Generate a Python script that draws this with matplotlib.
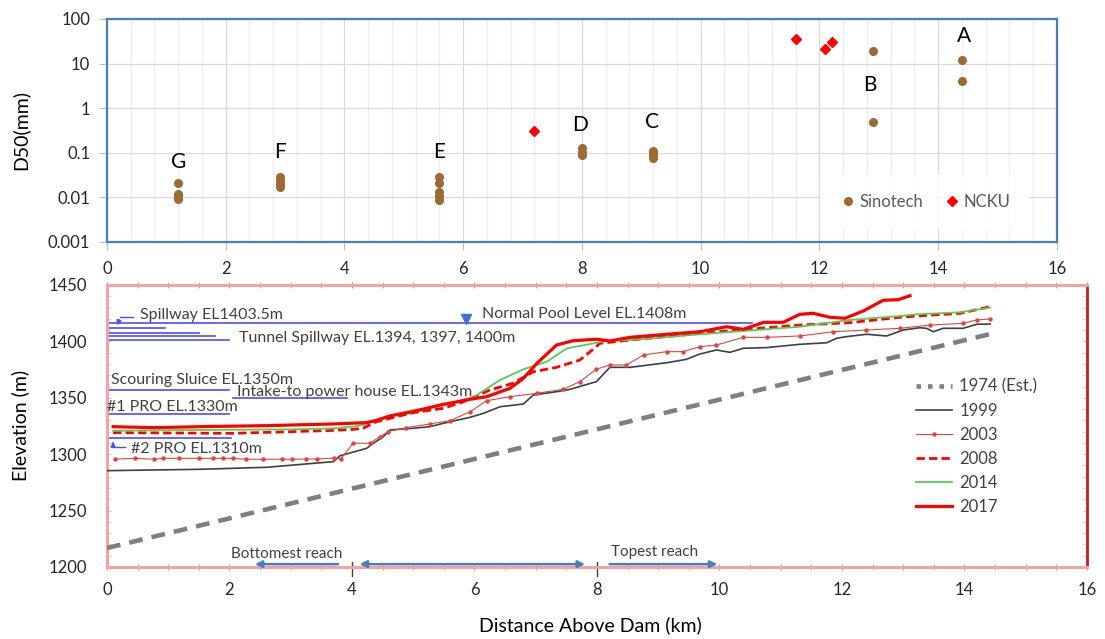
import matplotlib
matplotlib.use('Agg')
import matplotlib.pyplot as plt
from matplotlib.lines import Line2D
from matplotlib.ticker import FixedLocator, MultipleLocator, FixedFormatter

plt.rcParams['font.family'] = ['Lato', 'DejaVu Sans']

# ---- D50 samples (top panel) ----
sino_x = [1.2, 1.2, 1.2, 1.2,
          2.92, 2.92, 2.92, 2.92,
          5.6, 5.6, 5.6, 5.6, 5.6,
          8.0, 8.0, 8.0,
          9.2, 9.2, 9.2, 9.2,
          12.9, 12.9,
          14.4, 14.4]
sino_d50 = [0.0207, 0.0118, 0.0107, 0.0093,
            0.028, 0.0235, 0.020, 0.017,
            0.028, 0.0205, 0.0133, 0.0108, 0.0086,
            0.125, 0.105, 0.09,
            0.11, 0.1, 0.088, 0.078,
            19.2, 0.49,
            12.3, 4.1]
ncku_x = [7.19, 11.6, 12.1, 12.21]
ncku_d50 = [0.31, 35.7, 21.7, 31.0]
site_names = ['G', 'F', 'E', 'D', 'C', 'B', 'A']
site_x = [1.21, 2.92, 5.6, 7.97, 9.18, 12.85, 14.44]
site_y = [0.062, 0.106, 0.106, 0.42, 0.5, 3.3, 41.6]

# ---- bed profiles (bottom panel) ----
x1974 = [0.0, 14.47]
z1974 = [1216.8, 1407.2]

x1999 = [0.0, 1.52, 2.61, 3.70, 3.80, 4.24, 4.35, 4.51, 4.62, 5.0, 5.27, 5.60, 5.93, 6.15,
         6.42, 6.80, 6.96, 7.34, 7.56, 7.99, 8.21, 8.54, 9.14, 9.46, 9.68, 9.95, 10.17, 10.39,
         10.77, 11.31, 11.75, 11.91, 12.07, 12.40, 12.73, 13.0, 13.27, 13.38, 13.49, 13.65,
         13.98, 14.20, 14.42]
z1999 = [1285.4, 1286.6, 1288.4, 1293.4, 1298.5, 1305.2, 1309.7, 1315.5, 1321.5, 1323, 1324.4,
         1328.8, 1332.7, 1336.3, 1342.1, 1344.5, 1352.5, 1355.4, 1357.5, 1364.3, 1377, 1377,
         1381.1, 1384.1, 1388.8, 1392.4, 1390.3, 1393.9, 1394.5, 1397.4, 1398.8, 1402.7,
         1404.2, 1406.3, 1404.8, 1410.1, 1412.1, 1411.6, 1408.6, 1411.6, 1411.6, 1415.2, 1415.4]

x2003 = [0.13, 0.46, 0.77, 0.92, 1.17, 1.50, 1.73, 1.89, 2.06, 2.27, 2.54, 2.86, 3.02, 3.25,
         3.43, 3.71, 3.82, 4.02, 4.29, 4.46, 4.59, 4.89, 5.27, 5.60, 5.93, 6.20, 6.58, 7.02,
         7.45, 7.72, 7.99, 8.21, 8.48, 8.76, 9.14, 9.41, 9.68, 9.95, 10.39, 10.77, 11.31,
         11.86, 12.40, 12.95, 13.44, 13.98, 14.20, 14.42]
z2003 = [1295.7, 1296.3, 1295.5, 1296.3, 1296.3, 1296.3, 1296.3, 1296.3, 1296.3, 1295.5,
         1295.5, 1295.5, 1295.5, 1295.7, 1295.7, 1296.6, 1296.0, 1309.7, 1309.7, 1315.5,
         1320.1, 1323.5, 1326.8, 1329.7, 1337.7, 1347.4, 1351, 1354, 1357.5, 1364.3, 1375.3,
         1379.1, 1379.1, 1388, 1390.9, 1390.9, 1395.3, 1396.8, 1403.6, 1403.6, 1404.8,
         1408.6, 1410.1, 1411.6, 1414.5, 1416, 1419, 1419.9]

x2008 = [0.1, 2.06, 3.64, 4.02, 4.18, 4.40, 4.51, 4.78, 5.0, 5.49, 5.82, 6.25, 6.63, 6.96,
         7.34, 7.72, 7.89, 8.05, 8.54, 9.68, 11.31, 12.13, 12.95, 13.22, 13.93, 14.42]
z2008 = [1319.1, 1318.5, 1321, 1322, 1323, 1328.8, 1330.3, 1334, 1336.8, 1340.7, 1346.5,
         1356.9, 1362.9, 1373.1, 1377, 1383.5, 1390.9, 1398.3, 1401.2, 1407.2, 1414.5,
         1416.6, 1421.4, 1422.5, 1424.9, 1430.8]

x2014 = [0.1, 1.5, 3.0, 3.70, 4.02, 4.18, 4.46, 4.67, 5.0, 5.44, 5.98, 6.42, 6.80, 7.02,
         7.18, 7.51, 7.89, 8.16, 8.54, 9.68, 11.31, 12.13, 12.95, 13.22, 13.93, 14.42]
z2014 = [1320.8, 1321.5, 1322, 1322.9, 1324.4, 1325.9, 1331, 1334.8, 1339.2, 1342.7, 1350.4,
         1365.8, 1375.3, 1379.1, 1382, 1393.9, 1397.7, 1400.4, 1401.2, 1406.3, 1413, 1419,
         1422.5, 1424, 1425.8, 1429.9]

x2017 = [0.1, 0.76, 1.52, 2.61, 3.70, 4.24, 4.40, 4.62, 5.0, 5.44, 5.93, 6.20, 6.58, 6.80,
         7.02, 7.34, 7.61, 7.99, 8.21, 8.54, 9.14, 9.68, 10.12, 10.39, 10.72, 11.04, 11.31,
         11.53, 11.80, 12.05, 12.35, 12.67, 12.92, 13.11]
z2017 = [1324.4, 1323.5, 1324.4, 1325.3, 1326.8, 1328, 1330, 1333.9, 1337.7, 1343.6, 1348.7,
         1351, 1358.4, 1367.3, 1380.6, 1396.8, 1400.6, 1401.9, 1400.4, 1403.6, 1406.3,
         1408.6, 1413, 1410.7, 1416.9, 1416.9, 1424, 1424.9, 1421.4, 1420.5, 1427, 1436.4,
         1437, 1440.5]

# reference levels drawn in the profile (elev, x start, x end)
ref_lines = [(1416.0, 0, 10.53), (1411.6, 0, 0.95), (1407.0, 0, 1.5), (1404.8, 0, 1.76),
             (1401.0, 0, 2.0), (1357.0, 0, 2.0), (1349.6, 2.06, 3.92),
             (1335.6, 0, 2.0), (1314.0, 0, 2.02)]
ref_texts = [(0.54, 1423.4, 'Spillway EL1403.5m'),
             (2.16, 1403.0, 'Tunnel Spillway EL.1394, 1397, 1400m'),
             (6.12, 1424.0, 'Normal Pool Level EL.1408m'),
             (0.06, 1365.8, 'Scouring Sluice EL.1350m'),
             (2.12, 1355.0, 'Intake-to power house EL.1343m'),
             (0.0, 1342.0, '#1 PRO EL.1330m'),
             (0.39, 1304.6, '#2 PRO EL.1310m')]

fig = plt.figure(figsize=(11.05, 6.39), dpi=100)

# ================= top panel =================
ax1 = fig.add_axes([0.0968, 0.6213, 0.8597, 0.3490])
ax1.set_yscale('log')
ax1.set_xlim(0, 16)
ax1.set_ylim(0.001, 100)
ax1.xaxis.set_major_locator(MultipleLocator(2))
ax1.xaxis.set_minor_locator(MultipleLocator(0.4))
ax1.yaxis.set_major_locator(FixedLocator([0.001, 0.01, 0.1, 1, 10, 100]))
ax1.yaxis.set_major_formatter(FixedFormatter(['0.001', '0.01', '0.1', '1', '10', '100']))
ax1.yaxis.set_minor_locator(FixedLocator([]))
ax1.grid(True, which='major', color='#d9d9d9', lw=0.9)
ax1.grid(True, which='minor', axis='x', color='#ececec', lw=0.8)
ax1.set_axisbelow(True)
for s in ax1.spines.values():
    s.set_color('#4a7ebb')
    s.set_linewidth(1.6)
ax1.tick_params(which='major', length=6, color='#bfbfbf', labelsize=12, labelcolor='#262626')
ax1.tick_params(axis='x', pad=8)
ax1.tick_params(axis='y', pad=6)
ax1.tick_params(which='minor', length=0)

ax1.plot(sino_x, sino_d50, 'o', color='#9c6a35', ms=5.5, label='Sinotech', zorder=3)
ax1.plot(ncku_x, ncku_d50, 'D', color='#ff0000', ms=5, label='NCKU', zorder=3)
for name, x, y in zip(site_names, site_x, site_y):
    ax1.text(x, y, name, fontsize=15, ha='center', va='center', color='black')

leg1 = ax1.legend(loc='center', bbox_to_anchor=(0.861, 0.18), ncol=2, frameon=True,
                  fontsize=12, handletextpad=0.2, columnspacing=1.2, handlelength=1.0,
                  borderpad=1.2, fancybox=False)
leg1.get_frame().set_edgecolor('none')
leg1.get_frame().set_facecolor('white')
for t in leg1.get_texts():
    t.set_color('#595959')

fig.text(20 / 1105, 1 - 130 / 639, 'D50(mm)', rotation=90, ha='center', va='center', fontsize=14)

# ================= bottom panel =================
ax2 = fig.add_axes([0.0968, 0.1127, 0.8869, 0.4413])
ax2.set_xlim(0, 16)
ax2.set_ylim(1200, 1450)
ax2.xaxis.set_major_locator(MultipleLocator(2))
ax2.xaxis.set_minor_locator(MultipleLocator(0.5))
ax2.yaxis.set_major_locator(MultipleLocator(50))
ax2.yaxis.set_minor_locator(MultipleLocator(10))
for side in ['left', 'top', 'bottom']:
    ax2.spines[side].set_color('#f4a3a3')
    ax2.spines[side].set_linewidth(2.2)
ax2.spines['right'].set_color('#c02020')
ax2.spines['right'].set_linewidth(2.0)
ax2.tick_params(axis='x', which='both', direction='inout', length=5, color='#a0a0a0',
                top=True, labelsize=12, labelcolor='#262626', pad=8)
ax2.tick_params(axis='y', which='both', direction='in', length=3, color='#c8c8c8',
                right=True, labelsize=12, labelcolor='#262626', pad=14)

blue = '#4b4bff'
for z, xs, xe in ref_lines:
    ax2.plot([xs, xe], [z, z], color=blue, lw=1.2, zorder=2)
for x, z, s in ref_texts:
    ax2.text(x, z, s, fontsize=11.5, color='#404040', ha='left', va='center', zorder=4)
ax2.plot([5.86], [1419.5], 'v', color='#4472c4', ms=7, zorder=4)
# small leader arrows
ax2.plot([0.42, 0.21], [1421.6, 1421.6], color=blue, lw=1)
ax2.annotate('', xy=(0.16, 1411.8), xytext=(0.21, 1421.6),
             arrowprops=dict(arrowstyle='-|>', color=blue, lw=1, mutation_scale=7))
ax2.plot([0.29, 0.1], [1306.4, 1306.4], color=blue, lw=1)
ax2.annotate('', xy=(0.1, 1313.5), xytext=(0.1, 1306.4),
             arrowprops=dict(arrowstyle='-|>', color=blue, lw=1, mutation_scale=7))

ax2.plot(x1974, z1974, color='#7f7f7f', lw=3.3, ls=(0, (3, 2)), zorder=3)
ax2.plot(x1999, z1999, color='#404040', lw=1.2, zorder=3)
ax2.plot(x2003, z2003, color='#e04545', lw=0.8, marker='o', ms=2.2, zorder=3)
ax2.plot(x2008, z2008, color='#ff0000', lw=2.0, ls=(0, (3, 1.5)), zorder=3)
ax2.plot(x2014, z2014, color='#55cc55', lw=1.3, zorder=3)
ax2.plot(x2017, z2017, color='#ff0000', lw=2.3, zorder=3)

handles = [Line2D([], [], color='#7f7f7f', lw=3.3, ls=(0, (1, 1.5))),
           Line2D([], [], color='#404040', lw=1.2),
           Line2D([], [], color='#e04545', lw=0.8, marker='o', ms=2.2),
           Line2D([], [], color='#ff0000', lw=2.0, ls=(0, (3, 1.5))),
           Line2D([], [], color='#55cc55', lw=1.3),
           Line2D([], [], color='#ff0000', lw=2.3)]
labels = ['1974 (Est.)', '1999', '2003', '2008', '2014', '2017']
leg2 = ax2.legend(handles, labels, loc='center left', bbox_to_anchor=(0.81, 0.427),
                  frameon=False, fontsize=12, handlelength=2.2, handletextpad=0.4,
                  labelspacing=0.48)
for t in leg2.get_texts():
    t.set_color('#404040')

# reach arrows
arrow_blue = '#4a7ebb'
ax2.annotate('', xy=(2.37, 1202.5), xytext=(3.82, 1202.5),
             arrowprops=dict(arrowstyle='-|>', color=arrow_blue, lw=1.8, mutation_scale=10))
ax2.annotate('', xy=(4.08, 1202.5), xytext=(7.85, 1202.5),
             arrowprops=dict(arrowstyle='<|-|>', color=arrow_blue, lw=1.8, mutation_scale=10))
ax2.annotate('', xy=(10.01, 1202.5), xytext=(8.16, 1202.5),
             arrowprops=dict(arrowstyle='-|>', color=arrow_blue, lw=1.8, mutation_scale=10))
ax2.text(2.02, 1211.5, 'Bottomest reach', fontsize=11, color='#404040', ha='left', va='center')
ax2.text(8.23, 1212.9, 'Topest reach', fontsize=11, color='#404040', ha='left', va='center')
for xm in [4, 8]:
    ax2.plot([xm, xm], [1204.4, 1192], color='#404040', lw=1, clip_on=False)

fig.text(20 / 1105, 1 - 425 / 639, 'Elevation (m)', rotation=90, ha='center', va='center', fontsize=14)
fig.text(590 / 1105, 1 - 625 / 639, 'Distance Above Dam (km)', ha='center', va='center', fontsize=14)

fig.savefig('out.png', dpi=100)
